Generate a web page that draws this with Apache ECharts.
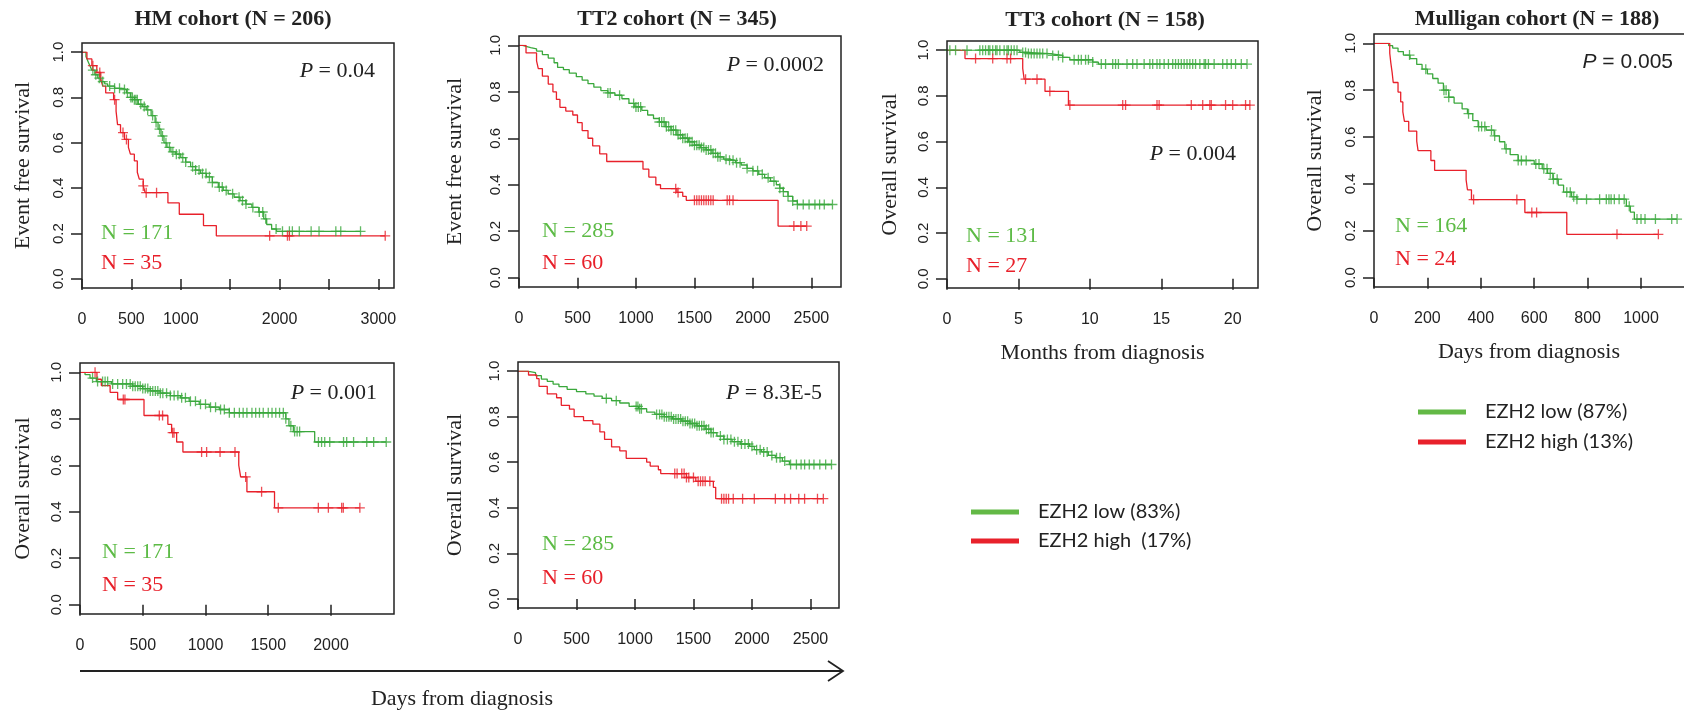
<!DOCTYPE html>
<html>
<head>
<meta charset="utf-8">
<script src="https://cdn.jsdelivr.net/npm/echarts@6/dist/echarts.min.js"></script>
<style>
  html, body { margin: 0; padding: 0; background: #fff; }
  #main { width: 1684px; height: 712px; }
</style>
</head>
<body>
<div id="main"></div>
<script>
// ---- data: survival steps [time, S] and censor times ----
const yTicks = [0, 0.2, 0.4, 0.6, 0.8, 1.0];

// HM cohort, event free survival (days)
const hmEfsLow = [[0,1],[40,0.98],[60,0.96],[80,0.94],[100,0.92],[130,0.90],[160,0.885],[190,0.87],[230,0.86],[260,0.85],
  [330,0.84],[400,0.835],[450,0.82],[490,0.80],[530,0.79],[570,0.77],[610,0.76],[650,0.745],[700,0.72],[740,0.69],
  [770,0.66],[800,0.63],[830,0.60],[860,0.58],[900,0.56],[950,0.55],[1000,0.535],[1050,0.515],[1100,0.495],[1150,0.48],
  [1200,0.465],[1260,0.45],[1320,0.425],[1380,0.405],[1430,0.39],[1480,0.375],[1540,0.36],[1600,0.345],[1660,0.33],
  [1720,0.315],[1790,0.295],[1840,0.265],[1870,0.24],[1920,0.22],[1970,0.21]];
const hmEfsLowCens = [110,140,175,210,280,330,380,430,460,495,510,530,545,560,595,630,665,715,750,785,815,850,885,920,
  955,985,1020,1050,1120,1150,1185,1220,1255,1290,1320,1390,1420,1460,1525,1590,1625,1660,1730,1795,1830,1860,1965,
  2030,2100,2130,2200,2320,2400,2570,2620,2820];
const hmEfsHigh = [[0,1],[50,0.97],[100,0.94],[150,0.91],[190,0.88],[210,0.85],[240,0.82],[320,0.79],[345,0.74],[360,0.68],
  [390,0.645],[430,0.615],[470,0.58],[490,0.55],[530,0.52],[560,0.47],[580,0.44],[620,0.41],[640,0.38],[870,0.335],
  [985,0.285],[1230,0.235],[1360,0.19]];
const hmEfsHighCens = [110,180,330,415,450,620,650,755,1900,2080,2100,3070];

// TT2 cohort, event free survival (days)
const tt2EfsLow = [[0,1],[30,0.995],[60,0.99],[100,0.985],[150,0.975],[200,0.96],[250,0.945],[300,0.925],[330,0.905],
  [380,0.895],[430,0.88],[490,0.865],[540,0.85],[590,0.835],[640,0.82],[700,0.805],[760,0.795],[820,0.785],[880,0.77],
  [940,0.75],[990,0.735],[1050,0.72],[1100,0.70],[1150,0.685],[1200,0.67],[1250,0.65],[1300,0.635],[1350,0.615],
  [1400,0.60],[1450,0.585],[1500,0.57],[1550,0.56],[1600,0.55],[1650,0.535],[1700,0.52],[1750,0.51],[1800,0.505],
  [1850,0.495],[1900,0.485],[1950,0.47],[2000,0.46],[2050,0.445],[2100,0.43],[2150,0.415],[2200,0.40],[2230,0.385],
  [2260,0.37],[2300,0.35],[2340,0.33],[2380,0.315]];
const tt2EfsLowCens = [760,780,860,980,1000,1020,1040,1200,1220,1240,1260,1280,1300,1320,1340,1360,1380,1400,1420,1440,
  1460,1480,1500,1520,1540,1560,1580,1600,1620,1640,1660,1680,1700,1720,1770,1800,1830,1860,1890,1950,2000,2040,2080,
  2130,2180,2230,2260,2300,2340,2380,2430,2480,2530,2570,2610,2680];
const tt2EfsHigh = [[0,1],[60,0.967],[150,0.933],[165,0.90],[200,0.867],[250,0.833],[290,0.80],[320,0.767],[350,0.733],
  [400,0.717],[460,0.70],[500,0.667],[540,0.633],[590,0.60],[630,0.567],[690,0.533],[750,0.50],[1060,0.467],[1110,0.433],
  [1170,0.40],[1210,0.383],[1350,0.367],[1400,0.35],[1430,0.333],[2215,0.222]];
const tt2EfsHighCens = [1340,1360,1500,1520,1540,1560,1580,1600,1620,1640,1660,1780,1800,1830,2350,2410,2460];

// TT3 cohort, overall survival (months)
const tt3OsLow = [[0,1],[5.1,0.99],[5.6,0.985],[7.2,0.977],[8.1,0.968],[8.6,0.958],[10.2,0.948],[10.6,0.939]];
const tt3OsLowCens = [0.2,0.6,1.4,2.3,2.5,2.7,2.9,3.0,3.2,3.4,3.5,3.7,4.0,4.2,4.3,4.5,4.7,4.9,5.3,5.5,5.7,5.9,6.1,6.3,
  6.5,6.7,7.0,7.4,7.8,8.1,8.9,9.2,9.4,9.7,9.9,10.2,10.8,11.1,11.6,11.8,12.0,12.6,13.0,13.3,13.8,14.2,14.4,14.7,14.9,
  15.2,15.5,15.8,16.0,16.2,16.4,16.6,16.8,17.0,17.2,17.4,17.7,18.0,18.1,18.3,18.7,19.3,19.6,19.9,20.2,20.6,21.0];
const tt3OsHigh = [[0,1],[1.26,0.963],[5.3,0.92],[5.4,0.873],[6.86,0.82],[8.5,0.76]];
const tt3OsHighCens = [2.0,3.2,4.2,4.45,5.5,6.3,7.2,8.6,12.3,12.5,14.7,14.85,17.1,17.9,18.4,18.5,19.5,20.0,20.9,21.2];

// Mulligan cohort, overall survival (days)
const mulOsLow = [[0,1],[55,0.99],[70,0.98],[90,0.965],[110,0.95],[135,0.935],[160,0.91],[180,0.89],[200,0.87],[220,0.85],
  [240,0.83],[260,0.80],[280,0.77],[300,0.745],[330,0.72],[350,0.70],[370,0.67],[390,0.645],[420,0.63],[450,0.605],
  [470,0.58],[490,0.55],[510,0.525],[540,0.50],[600,0.485],[630,0.465],[650,0.445],[670,0.42],[690,0.395],[710,0.365],
  [740,0.345],[760,0.335],[945,0.305],[960,0.28],[975,0.25]];
const mulOsLowCens = [133,194,262,270,280,354,392,403,415,440,452,495,540,552,570,606,618,636,648,660,672,686,722,735,
  748,760,796,845,870,880,888,900,918,937,956,985,1000,1015,1054,1115,1135];
const mulOsHigh = [[0,1],[59,0.958],[63,0.917],[68,0.875],[72,0.833],[90,0.792],[100,0.75],[108,0.708],[114,0.667],
  [130,0.625],[160,0.583],[165,0.542],[213,0.50],[227,0.458],[345,0.417],[350,0.375],[365,0.333],[565,0.278],[722,0.185]];
const mulOsHighCens = [373,535,591,609,910,1065];

// HM cohort, overall survival (days)
const hmOsLow = [[0,1],[40,0.99],[80,0.975],[130,0.96],[250,0.95],[420,0.94],[500,0.93],[560,0.92],[640,0.91],[720,0.90],
  [800,0.89],[870,0.875],[950,0.862],[1030,0.85],[1110,0.84],[1190,0.826],[1640,0.80],[1665,0.77],[1700,0.745],[1870,0.70]];
const hmOsLowCens = [100,140,180,200,220,260,300,340,370,400,420,440,460,480,500,520,540,560,580,600,620,640,660,690,720,
  750,780,810,840,880,920,960,1000,1040,1080,1120,1150,1190,1230,1270,1300,1330,1370,1400,1430,1460,1500,1530,1560,1590,
  1620,1640,1680,1710,1730,1750,1900,1925,1950,1990,2100,2125,2180,2285,2340,2440];
const hmOsHigh = [[0,1],[135,0.97],[170,0.943],[240,0.914],[300,0.883],[510,0.814],[700,0.776],[730,0.74],[770,0.70],
  [820,0.657],[1265,0.60],[1280,0.55],[1330,0.486],[1550,0.417]];
const hmOsHighCens = [120,345,358,632,658,738,749,969,1009,1116,1235,1320,1447,1580,1899,1979,2085,2098,2230];

// TT2 cohort, overall survival (days)
const tt2OsLow = [[0,1],[80,0.993],[150,0.98],[200,0.965],[250,0.955],[300,0.943],[350,0.932],[420,0.92],[500,0.91],
  [580,0.90],[650,0.89],[720,0.88],[800,0.87],[870,0.86],[950,0.845],[1030,0.835],[1100,0.82],[1170,0.81],[1250,0.80],
  [1320,0.79],[1400,0.78],[1470,0.77],[1530,0.76],[1600,0.745],[1650,0.73],[1700,0.715],[1760,0.70],[1830,0.69],
  [1900,0.68],[1980,0.67],[2020,0.655],[2080,0.645],[2140,0.63],[2200,0.62],[2260,0.605],[2320,0.59]];
const tt2OsLowCens = [755,840,1010,1025,1040,1055,1185,1210,1230,1250,1270,1290,1310,1330,1350,1370,1390,1410,1430,1450,
  1470,1490,1510,1530,1550,1570,1590,1610,1630,1650,1670,1730,1760,1790,1820,1850,1880,1910,1940,1970,2000,2040,2070,
  2100,2130,2170,2210,2240,2280,2330,2380,2420,2450,2490,2530,2580,2630,2680];
const tt2OsHigh = [[0,1],[90,0.983],[160,0.967],[180,0.933],[250,0.90],[330,0.883],[370,0.85],[440,0.833],[480,0.80],
  [560,0.783],[640,0.767],[700,0.733],[740,0.70],[800,0.667],[870,0.65],[925,0.617],[1100,0.60],[1130,0.583],[1200,0.567],
  [1220,0.55],[1440,0.533],[1520,0.516],[1670,0.49],[1690,0.44]];
const tt2OsHighCens = [1340,1360,1400,1420,1440,1460,1500,1540,1560,1580,1600,1640,1740,1760,1780,1800,1840,1920,2020,
  2200,2280,2330,2400,2450,2560,2610];

const GREEN = '#3aa83c', RED = '#e8212b';
const GREEN_TXT = '#5dbb46', RED_TXT = '#e8202a';
const SERIF = 'Liberation Serif', SANS = 'Liberation Sans';

// panel layout: plot box in px (R style box, y padded 4% each side), x range, ticks
const panels = [
  { left: 82, top: 43, width: 312, height: 245, xMax: 3159, xTicks: [0,500,1000,1500,2000,2500,3000],
    xLabels: [0,500,1000,2000,3000], yName: 'Event free survival', yGap: 48,
    low: hmEfsLow, lowC: hmEfsLowCens, high: hmEfsHigh, highC: hmEfsHighCens },
  { left: 519, top: 36, width: 322, height: 251, xMax: 2753, xTicks: [0,500,1000,1500,2000,2500],
    xLabels: [0,500,1000,1500,2000,2500], yName: 'Event free survival', yGap: 53,
    low: tt2EfsLow, lowC: tt2EfsLowCens, high: tt2EfsHigh, highC: tt2EfsHighCens },
  { left: 947, top: 41, width: 311, height: 247, xMax: 21.77, xTicks: [0,5,10,15,20], xLabels: [0,5,10,15,20],
    yName: 'Overall survival', yGap: 46, xName: 'Months from diagnosis',
    low: tt3OsLow, lowC: tt3OsLowCens, high: tt3OsHigh, highC: tt3OsHighCens,
    lowName: 'EZH2 low (83%)', highName: 'EZH2 high  (17%)' },
  { left: 1374, top: 34, width: 315, height: 253, xMax: 1161, xTicks: [0,200,400,600,800,1000],
    xLabels: [0,200,400,600,800,1000], yName: 'Overall survival', yGap: 48, xName: 'Days from diagnosis',
    low: mulOsLow, lowC: mulOsLowCens, high: mulOsHigh, highC: mulOsHighCens,
    lowName: 'EZH2 low (87%)', highName: 'EZH2 high (13%)' },
  { left: 80, top: 363, width: 314, height: 251, xMax: 2502, xTicks: [0,500,1000,1500,2000],
    xLabels: [0,500,1000,1500,2000], yName: 'Overall survival', yGap: 46,
    low: hmOsLow, lowC: hmOsLowCens, high: hmOsHigh, highC: hmOsHighCens },
  { left: 518, top: 362, width: 321, height: 246, xMax: 2744, xTicks: [0,500,1000,1500,2000,2500],
    xLabels: [0,500,1000,1500,2000,2500], yName: 'Overall survival', yGap: 52,
    low: tt2OsLow, lowC: tt2OsLowCens, high: tt2OsHigh, highC: tt2OsHighCens }
];

// survival value of a step curve at time t
function survAt(steps, t) {
  let s = steps[0][1];
  for (const p of steps) { if (p[0] <= t) s = p[1]; }
  return s;
}

const PLUS = 'path://M5,0L5,10M0,5L10,5';

function kmSeries(idx, name, steps, cens, color) {
  const last = steps[steps.length - 1];
  const end = Math.max(cens[cens.length - 1], last[0]);
  return [
    { type: 'line', name: name, xAxisIndex: idx, yAxisIndex: idx, step: 'end', symbol: 'none',
      data: steps.concat([[end, last[1]]]), lineStyle: { color: color, width: 1.3 }, itemStyle: { color: color },
      silent: true, z: 3 },
    { type: 'scatter', name: name + ' censored', xAxisIndex: idx, yAxisIndex: idx, symbol: PLUS, symbolSize: 10,
      data: cens.map(t => [t, survAt(steps, t)]), silent: true, z: 4,
      itemStyle: { color: 'transparent', borderColor: color, borderWidth: 1.3 } }
  ];
}

const grids = [], xAxes = [], yAxes = [], series = [], frames = [];
panels.forEach((p, i) => {
  const inset = p.height * 0.04 / 1.08;
  // axes grid spans y 0..1; the drawn box is 4% larger on both ends
  grids.push({ left: p.left, top: p.top + inset, width: p.width, height: p.height - 2 * inset });
  frames.push({ type: 'rect', silent: true, z: 10,
    shape: { x: p.left, y: p.top, width: p.width, height: p.height },
    style: { fill: null, stroke: '#222', lineWidth: 1.5 } });
  xAxes.push({ gridIndex: i, type: 'value', min: 0, max: p.xMax, offset: inset,
    axisLine: { show: false }, splitLine: { show: false },
    axisTick: { show: true, length: 11, customValues: p.xTicks, lineStyle: { color: '#222', width: 1.5 } },
    axisLabel: { customValues: p.xLabels, margin: 24, fontFamily: SANS, fontSize: 16, color: '#222',
      formatter: v => String(v) },
    name: p.xName || '', nameLocation: 'middle', nameGap: 54,
    nameTextStyle: { fontFamily: SERIF, fontSize: 22, color: '#222' } });
  yAxes.push({ gridIndex: i, type: 'value', min: 0, max: 1, interval: 0.2,
    axisLine: { show: false }, splitLine: { show: false },
    axisTick: { show: true, length: 11, lineStyle: { color: '#222', width: 1.5 } },
    axisLabel: { rotate: 90, margin: 16, fontFamily: SANS, fontSize: 15, color: '#222',
      formatter: v => v.toFixed(1) },
    name: p.yName, nameLocation: 'middle', nameGap: p.yGap,
    nameTextStyle: { fontFamily: SERIF, fontSize: 22, color: '#222' } });
  series.push(...kmSeries(i, p.lowName || ('low ' + i), p.low, p.lowC, GREEN));
  series.push(...kmSeries(i, p.highName || ('high ' + i), p.high, p.highC, RED));
});

// ---- text annotations ----
const titles = [
  ['HM cohort (N = 206)', 233, 19], ['TT2 cohort (N = 345)', 677, 19],
  ['TT3 cohort (N = 158)', 1105, 20], ['Mulligan cohort (N = 188)', 1537, 19]
];
const pTexts = [
  ['0.04', 375, 71, SERIF], ['0.0002', 824, 65, SERIF], ['0.004', 1236, 154, SERIF],
  ['0.005', 1673, 62, SANS], ['0.001', 377, 393, SERIF], ['8.3E-5', 822, 393, SERIF]
];
const nTexts = [
  ['N = 171', 'N = 35', 101, 233, 263], ['N = 285', 'N = 60', 542, 231, 263],
  ['N = 131', 'N = 27', 966, 236, 266], ['N = 164', 'N = 24', 1395, 226, 259],
  ['N = 171', 'N = 35', 102, 552, 585], ['N = 285', 'N = 60', 542, 544, 578]
];

const graphics = frames.slice();
titles.forEach(t => graphics.push({ type: 'text', x: t[1], y: t[2], silent: true,
  style: { text: t[0], fontFamily: SERIF, fontWeight: 'bold', fontSize: 22, fill: '#222',
    align: 'center', verticalAlign: 'middle' } }));
pTexts.forEach(t => {
  const size = t[3] === SANS ? 21 : 22;
  graphics.push({ type: 'text', x: t[1], y: t[2], silent: true,
    style: { text: '{i|P} = ' + t[0], fontFamily: t[3], fontSize: size, fill: '#222',
      align: 'right', verticalAlign: 'middle',
      rich: { i: { fontFamily: t[3], fontStyle: 'italic', fontSize: size, fill: '#222' } } } });
});
nTexts.forEach(t => {
  graphics.push({ type: 'text', x: t[2], y: t[3], silent: true,
    style: { text: t[0], fontFamily: SERIF, fontSize: 22, fill: GREEN_TXT, align: 'left', verticalAlign: 'middle' } });
  graphics.push({ type: 'text', x: t[2], y: t[4], silent: true,
    style: { text: t[1], fontFamily: SERIF, fontSize: 22, fill: RED_TXT, align: 'left', verticalAlign: 'middle' } });
});
// shared x axis arrow for the left panels
graphics.push({ type: 'line', silent: true, shape: { x1: 80, y1: 671, x2: 843, y2: 671 },
  style: { stroke: '#222', lineWidth: 1.8 } });
graphics.push({ type: 'polyline', silent: true, shape: { points: [[828, 661], [843, 671], [828, 681]] },
  style: { stroke: '#222', lineWidth: 1.8, fill: null } });
graphics.push({ type: 'text', x: 462, y: 699, silent: true,
  style: { text: 'Days from diagnosis', fontFamily: SERIF, fontSize: 22, fill: '#222',
    align: 'center', verticalAlign: 'middle' } });

const legendBase = {
  orient: 'vertical', icon: 'rect', itemWidth: 48, itemHeight: 5, itemGap: 9, selectedMode: false,
  textStyle: { fontFamily: 'Lato', fontSize: 20, color: '#222', lineHeight: 20, padding: [0, 0, 0, 14] }
};

const chart = echarts.init(document.getElementById('main'), null, { renderer: 'canvas' });
chart.setOption({
  animation: false,
  backgroundColor: '#fff',
  grid: grids,
  xAxis: xAxes,
  yAxis: yAxes,
  legend: [
    Object.assign({}, legendBase, { left: 966, top: 497,
      data: [{ name: 'EZH2 low (83%)', itemStyle: { color: '#63b946' } },
             { name: 'EZH2 high  (17%)', itemStyle: { color: '#e8212b' } }] }),
    Object.assign({}, legendBase, { left: 1413, top: 397, itemGap: 10,
      data: [{ name: 'EZH2 low (87%)', itemStyle: { color: '#63b946' } },
             { name: 'EZH2 high (13%)', itemStyle: { color: '#e8212b' } }] })
  ],
  graphic: graphics,
  series: series
});
</script>
</body>
</html>
